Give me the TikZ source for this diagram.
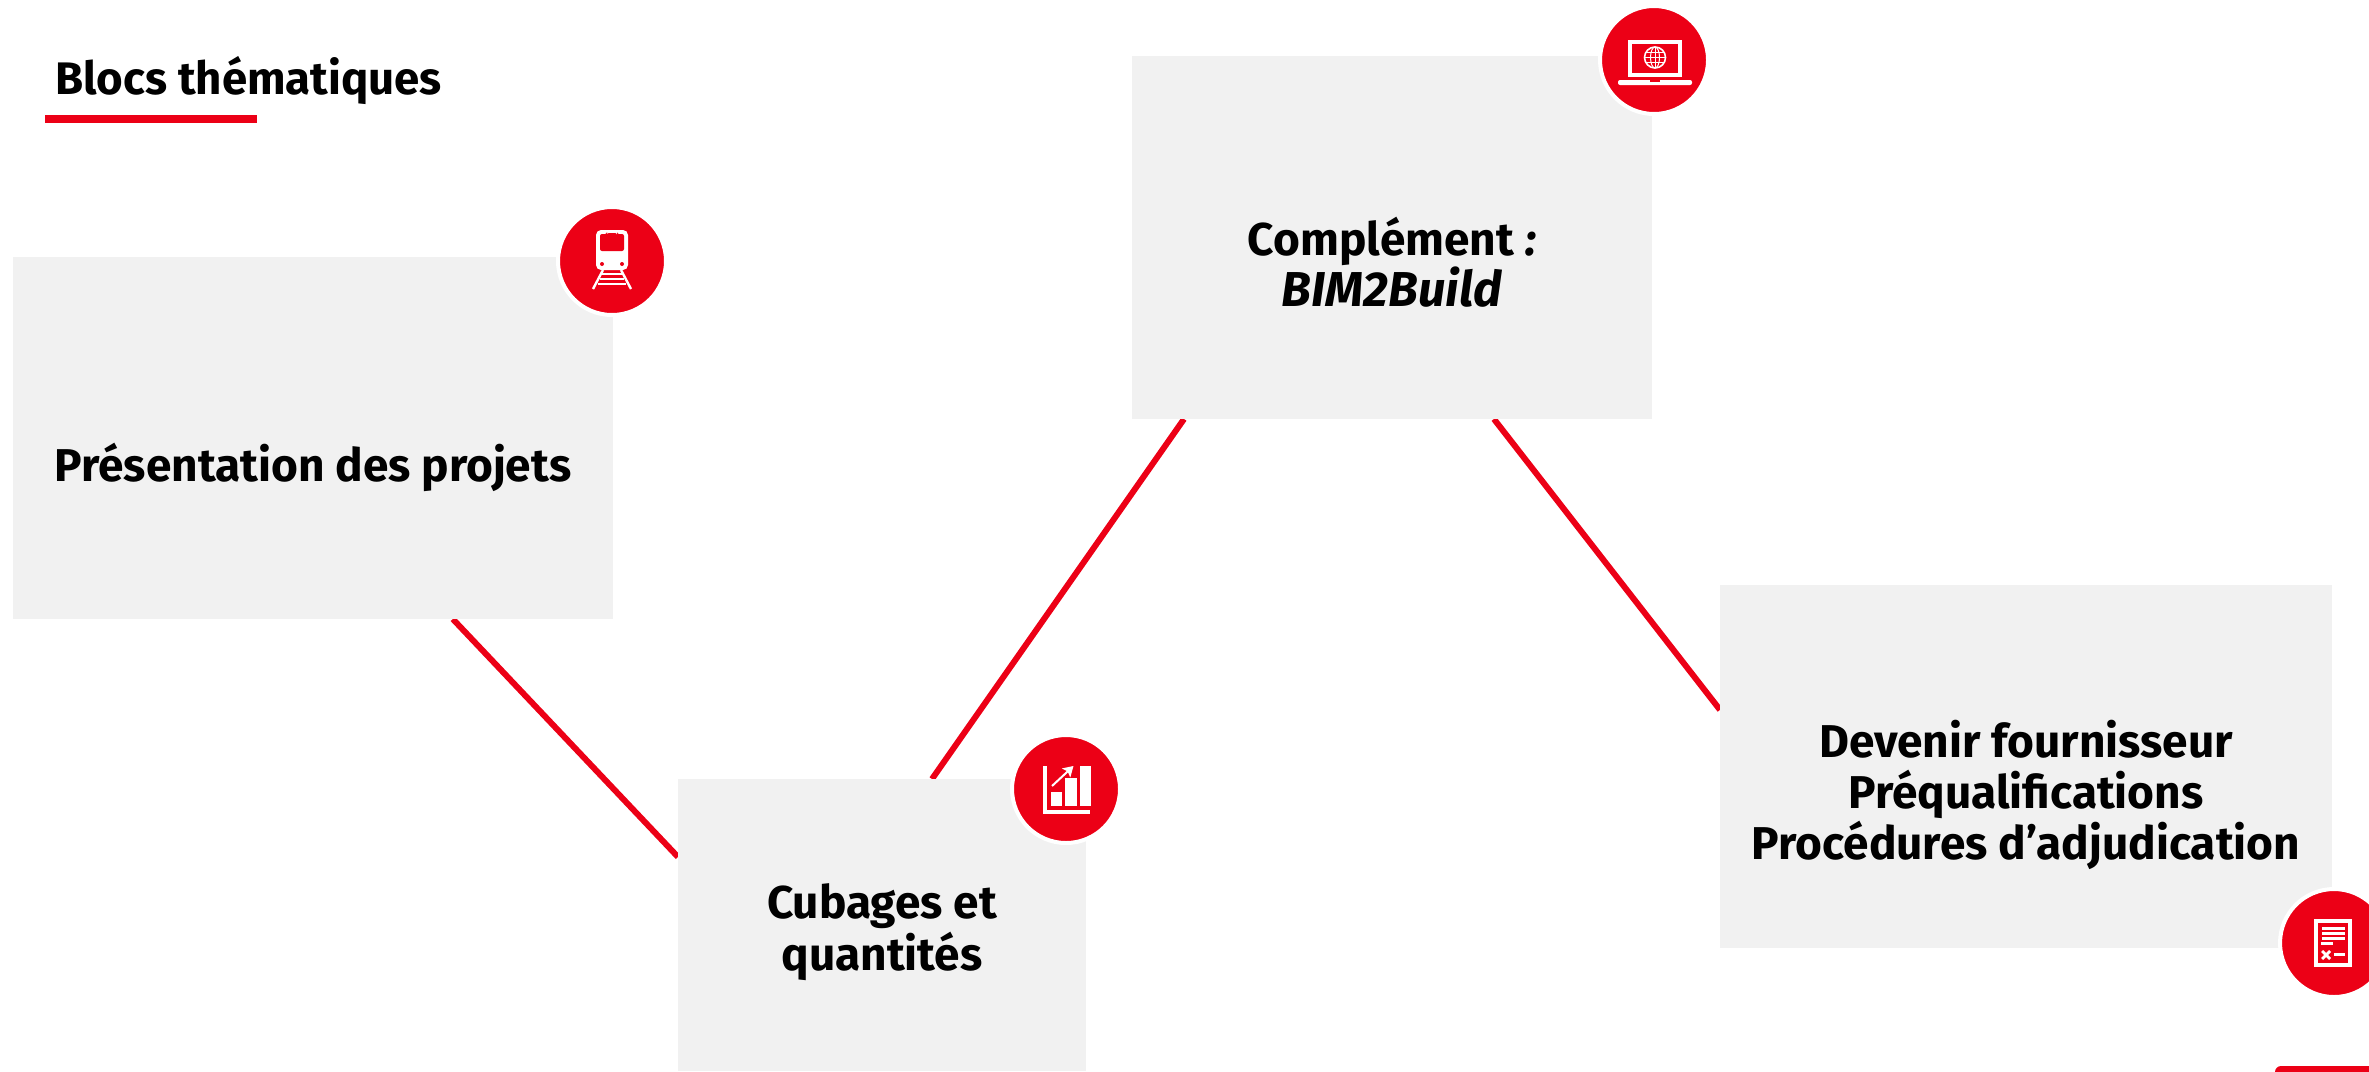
\documentclass[tikz,border=0pt]{standalone}
\usepackage{fontspec}
\setmainfont{Fira Sans}
\usetikzlibrary{calc,backgrounds,arrows.meta}
\definecolor{dbred}{HTML}{EC0016}
\definecolor{dbgrey}{HTML}{F1F1F1}
\tikzset{
  x=0.5pt,y=-0.5pt,
  block/.style={fill=dbgrey,draw=none,anchor=north west,inner sep=0,outer sep=0},
  label/.style={font=\fontsize{23}{25.7}\selectfont\bfseries,align=center,text=black,inner sep=0},
  link/.style={draw=dbred,line width=3pt},
  badge/.style={circle,fill=dbred,draw=white,line width=2pt,minimum size=54pt,inner sep=0,outer sep=0},
  ink/.style={fill=white,draw=none},
  inkline/.style={draw=white,fill=none},
  hole/.style={fill=dbred,draw=none}
}
\begin{document}
\begin{tikzpicture}
\useasboundingbox (0,0) rectangle (2369,1071);
% blocks
\node[block,minimum width=300pt,minimum height=181pt] (box1) at (13,257) {};
\node[block,minimum width=260pt,minimum height=181.5pt] (box2) at (1132,56) {};
\node[block,minimum width=204pt,minimum height=146pt] (box3) at (678,779) {};
\node[block,minimum width=306pt,minimum height=181.5pt] (box4) at (1720,585) {};
% connectors
\begin{scope}[on background layer]
\draw[link] ($(box1.south west)!0.733!(box1.south east)$) -- ($(box3.north west)!0.267!(box3.south west)$);
\draw[link] ($(box3.north west)!0.6225!(box3.north east)$) -- ($(box2.south west)!0.1!(box2.south east)$);
\draw[link] ($(box2.south west)!0.696!(box2.south east)$) -- ($(box4.north west)!0.344!(box4.south west)$);
\end{scope}
% title
\node[font=\fontsize{22.8}{25}\selectfont\bfseries,anchor=base west,inner sep=0] (title) at (55,94) {Blocs thématiques};
\fill[dbred] (45,115) rectangle (257,123);
% labels
\node[label] (t1) at (313,467) {Présentation des projets};
\node[label] (t2) at (1392,262) {Complément \textit{:}\\\textit{\fontsize{24.5}{25.7}\selectfont BIM2Build}};
\node[label] (t3) at (882,932) {Cubages et\\quantités};
\node[label] (t4) at (2026,795) {Devenir fournisseur\\Préqualifications\\Procédures d’adjudication};
% badges
\node[badge] (b1) at (612,261) {};
\node[badge] (b2) at (1654,60) {};
\node[badge] (b3) at (1066,789) {};
\node[badge] (b4) at (2334,943) {};
% train icon
\begin{scope}[shift={(b1.center)}]
\fill[ink,rounded corners=2.5pt] (-16,-31) rectangle (16,9);
\fill[hole,rounded corners=1pt] (-12,-27) -- (-5,-27) -- (-5,-28) -- (5,-28) -- (5,-27) -- (12,-27) -- (12,-10) -- (-12,-10) -- cycle;
\fill[hole] (-10,3) circle (2);
\fill[hole] (10,3) circle (2);
\draw[inkline,line width=1.2pt] (-9,9) -- (-19,28);
\draw[inkline,line width=1.2pt] (9,9) -- (19,28);
\foreach \yy/\xx in {13/10,18/12,23/14}{\draw[inkline,line width=1.1pt] (-\xx,\yy) -- (\xx,\yy);}
\end{scope}
% laptop icon
\begin{scope}[shift={(b2.center)}]
\fill[ink] (-26,-20) rectangle (28,17);
\fill[hole] (-22,-16) rectangle (24,13);
\fill[ink,rounded corners=1pt] (-36,20) rectangle (38,25);
\fill[hole] (-4,20) rectangle (6,21.5);
\draw[inkline,line width=0.8pt] (1,-2.5) circle (10.5);
\draw[inkline,line width=0.5pt] (1,-2.5) ellipse (4.5 and 10.5);
\draw[inkline,line width=0.5pt] (1,-13) -- (1,8);
\draw[inkline,line width=0.5pt] (-9.5,-2.5) -- (11.5,-2.5);
\draw[inkline,line width=0.5pt] (-8,-7.5) -- (10,-7.5);
\draw[inkline,line width=0.5pt] (-8,2.5) -- (10,2.5);
\end{scope}
% chart icon
\begin{scope}[shift={(b3.center)}]
\fill[ink] (-23,-23) rectangle (-19,25);
\fill[ink] (-23,21) rectangle (24,25);
\fill[ink] (-15,2.5) rectangle (-4,17);
\fill[ink] (-1,-11) rectangle (11,17);
\fill[ink] (14,-23) rectangle (25,17);
\draw[inkline,line width=1pt,-{Stealth[length=5pt,width=6pt,inset=1pt]}] (-14,-3) -- (7.5,-23);
\end{scope}
% document icon
\begin{scope}[shift={(b4.center)}]
\draw[inkline,line width=1.8pt] (-18,-22) rectangle (16,22);
\fill[ink] (-12,-16) rectangle (11,-13);
\fill[ink] (-12,-11) rectangle (11,-8);
\fill[ink] (-12,-6) rectangle (11,-3);
\fill[ink] (-13,-1) rectangle (-1,2);
\draw[inkline,line width=1.4pt] (-12,8) -- (-4,16);
\draw[inkline,line width=1.4pt] (-12,16) -- (-4,8);
\fill[ink] (0,10) rectangle (11,13);
\end{scope}
% corner tab
\fill[dbred,rounded corners=3pt] (2275,1085) -- (2275,1066) -- (2380,1066) -- (2380,1085) -- cycle;
\end{tikzpicture}
\end{document}
